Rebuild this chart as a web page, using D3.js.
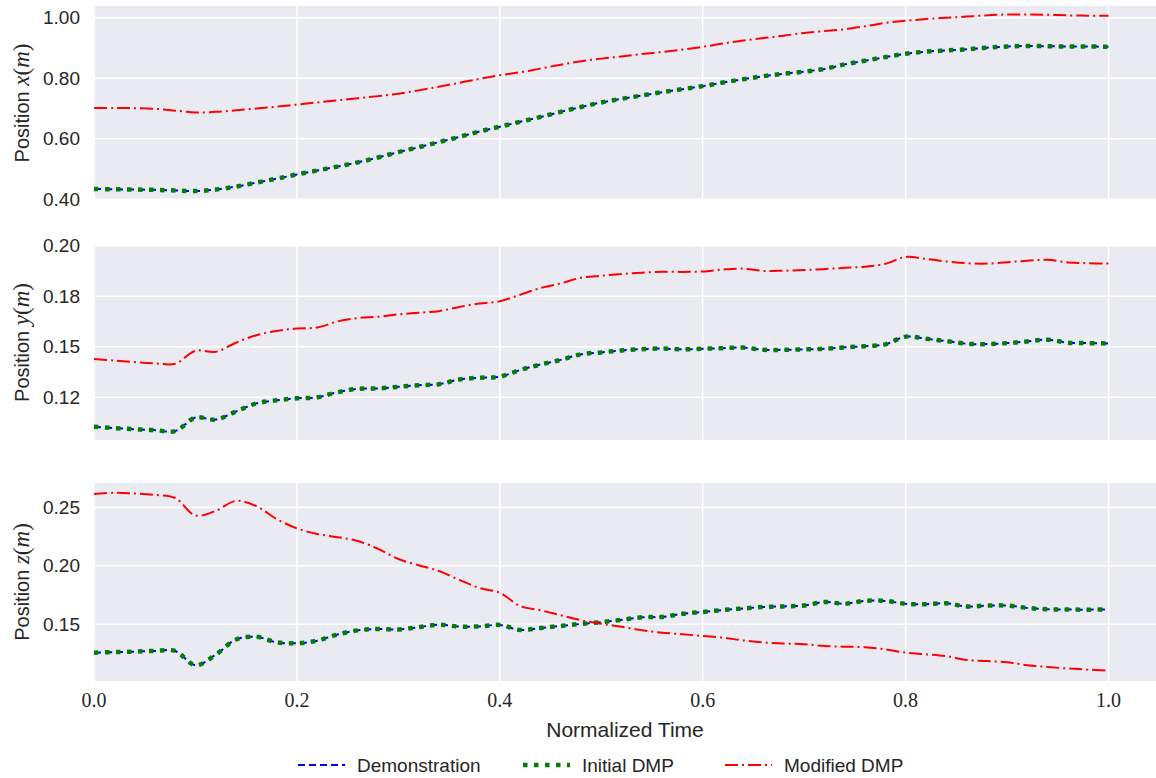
<!DOCTYPE html>
<html>
<head>
<meta charset="utf-8">
<script src="https://cdn.jsdelivr.net/npm/d3@7"></script>
<style>
  body { margin: 0; background: #fff; }
  svg { display: block; }
</style>
</head>
<body>
<svg id="chart"></svg>
<script>
var width = 1156,
    height = 778;

// normalized time samples
var time = d3.range(0, 51).map(function(i) { return i / 50; });

// x position (m)
var demoX = [0.434,0.433,0.432,0.431,0.429,0.427,0.432,0.442,0.455,0.468,
             0.482,0.495,0.508,0.522,0.538,0.556,0.572,0.589,0.606,0.624,
             0.640,0.656,0.672,0.689,0.705,0.720,0.732,0.743,0.754,0.764,
             0.774,0.786,0.797,0.807,0.815,0.822,0.831,0.846,0.858,0.870,
             0.881,0.888,0.892,0.896,0.901,0.905,0.907,0.906,0.905,0.905,0.904];
var dmpX  = [0.434,0.433,0.432,0.431,0.429,0.427,0.432,0.442,0.455,0.468,
             0.482,0.495,0.508,0.522,0.538,0.556,0.572,0.589,0.606,0.624,
             0.640,0.656,0.672,0.689,0.705,0.720,0.732,0.743,0.754,0.764,
             0.774,0.786,0.797,0.807,0.815,0.822,0.831,0.846,0.858,0.870,
             0.881,0.888,0.892,0.896,0.901,0.905,0.907,0.906,0.905,0.905,0.904];
var modX  = [0.702,0.702,0.701,0.699,0.693,0.687,0.689,0.694,0.700,0.706,
             0.713,0.720,0.727,0.734,0.741,0.749,0.760,0.772,0.785,0.798,
             0.810,0.820,0.832,0.845,0.856,0.865,0.872,0.880,0.887,0.895,
             0.904,0.915,0.925,0.933,0.941,0.950,0.956,0.962,0.972,0.983,
             0.990,0.996,1.000,1.004,1.008,1.011,1.011,1.010,1.008,1.007,1.007];

// y position (m)
var demoY = [0.1105,0.1098,0.1092,0.1088,0.1083,0.1150,0.1140,0.1180,0.1220,0.1235,
             0.1245,0.1250,0.1275,0.1292,0.1294,0.1302,0.1310,0.1315,0.1338,0.1347,
             0.1352,0.1385,0.1412,0.1435,0.1463,0.1472,0.1482,0.1488,0.1491,0.1487,
             0.1490,0.1493,0.1496,0.1485,0.1485,0.1487,0.1490,0.1497,0.1503,0.1512,
             0.1550,0.1540,0.1528,0.1515,0.1513,0.1518,0.1526,0.1535,0.1520,0.1518,0.1516];
var dmpY  = [0.1105,0.1098,0.1092,0.1088,0.1083,0.1150,0.1140,0.1180,0.1220,0.1235,
             0.1245,0.1250,0.1275,0.1292,0.1294,0.1302,0.1310,0.1315,0.1338,0.1347,
             0.1352,0.1385,0.1412,0.1435,0.1463,0.1472,0.1482,0.1488,0.1491,0.1487,
             0.1490,0.1493,0.1496,0.1485,0.1485,0.1487,0.1490,0.1497,0.1503,0.1512,
             0.1550,0.1540,0.1528,0.1515,0.1513,0.1518,0.1526,0.1535,0.1520,0.1518,0.1516];
var modY  = [0.1439,0.1432,0.1424,0.1418,0.1416,0.1480,0.1475,0.1520,0.1557,0.1578,
             0.1590,0.1595,0.1625,0.1642,0.1648,0.1660,0.1668,0.1676,0.1697,0.1714,
             0.1725,0.1757,0.1790,0.1813,0.1841,0.1851,0.1860,0.1866,0.1871,0.1870,
             0.1872,0.1882,0.1886,0.1875,0.1876,0.1879,0.1884,0.1890,0.1896,0.1910,
             0.1944,0.1934,0.1922,0.1913,0.1911,0.1918,0.1925,0.1930,0.1917,0.1913,0.1911];

// z position (m)
var demoZ = [0.1257,0.1262,0.1266,0.1272,0.1272,0.1150,0.1240,0.1370,0.1393,0.1345,
             0.1338,0.1360,0.1412,0.1448,0.1460,0.1455,0.1475,0.1497,0.1480,0.1482,
             0.1494,0.1451,0.1468,0.1486,0.1503,0.1518,0.1538,0.1560,0.1563,0.1590,
             0.1605,0.1622,0.1635,0.1648,0.1653,0.1660,0.1690,0.1676,0.1700,0.1700,
             0.1675,0.1672,0.1680,0.1652,0.1660,0.1660,0.1640,0.1628,0.1626,0.1625,0.1628];
var dmpZ  = [0.1257,0.1262,0.1266,0.1272,0.1272,0.1150,0.1240,0.1370,0.1393,0.1345,
             0.1338,0.1360,0.1412,0.1448,0.1460,0.1455,0.1475,0.1497,0.1480,0.1482,
             0.1494,0.1451,0.1468,0.1486,0.1503,0.1518,0.1538,0.1560,0.1563,0.1590,
             0.1605,0.1622,0.1635,0.1648,0.1653,0.1660,0.1690,0.1676,0.1700,0.1700,
             0.1675,0.1672,0.1680,0.1652,0.1660,0.1660,0.1640,0.1628,0.1626,0.1625,0.1628];
var modZ  = [0.2614,0.2624,0.2618,0.2606,0.2580,0.2430,0.2470,0.2555,0.2510,0.2400,
             0.2320,0.2272,0.2245,0.2212,0.2145,0.2058,0.2005,0.1955,0.1880,0.1810,
             0.1770,0.1656,0.1620,0.1578,0.1535,0.1505,0.1478,0.1450,0.1428,0.1415,
             0.1400,0.1385,0.1362,0.1345,0.1336,0.1330,0.1314,0.1308,0.1304,0.1285,
             0.1258,0.1244,0.1228,0.1195,0.1186,0.1175,0.1150,0.1135,0.1122,0.1112,0.1103];

// ticks
var xTicks = [0, 0.2, 0.4, 0.6, 0.8, 1.0];
var yTicksX = [0.4, 0.6, 0.8, 1.0];
var yLabelsX = ["0.40", "0.60", "0.80", "1.00"];
var yTicksY = [0.125, 0.15, 0.175, 0.2];
var yLabelsY = ["0.12", "0.15", "0.18", "0.20"];
var yTicksZ = [0.15, 0.2, 0.25];
var yLabelsZ = ["0.15", "0.20", "0.25"];

var seriesNames = ["Demonstration", "Initial DMP", "Modified DMP"];

var styles = [
  { color: "#0000ff", w: 2,   dash: "7,4" },
  { color: "#008000", w: 4.5, dash: "4.5,6.5" },
  { color: "#ff0000", w: 2,   dash: "13,4,2,4" }
];

var left = 94, right = 1156;
var sansFont = "'Liberation Sans', Arial, sans-serif";
var serifFont = "'Liberation Serif', 'DejaVu Serif', serif";

var svg = d3.select("#chart")
  .attr("width", width)
  .attr("height", height);

var x = d3.scaleLinear().domain([0, 1.0468]).range([left, right]);

var panels = [
  { top: 6,   bottom: 200, domain: [0.3975, 1.039], ticks: yTicksX, labels: yLabelsX, v: "x", data: [demoX, dmpX, modX] },
  { top: 245, bottom: 440, domain: [0.1039, 0.2003], ticks: yTicksY, labels: yLabelsY, v: "y", data: [demoY, dmpY, modY] },
  { top: 483, bottom: 681, domain: [0.1015, 0.2708], ticks: yTicksZ, labels: yLabelsZ, v: "z", data: [demoZ, dmpZ, modZ] }
];

panels.forEach(function(p) {
  var y = d3.scaleLinear().domain(p.domain).range([p.bottom, p.top]);
  var g = svg.append("g");

  g.append("rect")
    .attr("x", left).attr("y", p.top)
    .attr("width", right - left).attr("height", p.bottom - p.top)
    .attr("fill", "#eaeaf2");

  // grid
  g.selectAll(".vgrid").data(xTicks).enter().append("line")
    .attr("x1", function(d) { return x(d); }).attr("x2", function(d) { return x(d); })
    .attr("y1", p.top).attr("y2", p.bottom)
    .attr("stroke", "#fff").attr("stroke-width", 1.6);
  g.selectAll(".hgrid").data(p.ticks).enter().append("line")
    .attr("x1", left).attr("x2", right)
    .attr("y1", function(d) { return y(d); }).attr("y2", function(d) { return y(d); })
    .attr("stroke", "#fff").attr("stroke-width", 1.6);

  // y tick labels
  g.selectAll(".ylab").data(p.ticks).enter().append("text")
    .attr("x", left - 14)
    .attr("y", function(d) { return y(d); })
    .attr("dy", "0.35em")
    .attr("text-anchor", "end")
    .attr("font-family", sansFont)
    .attr("font-size", 19)
    .attr("fill", "#262626")
    .text(function(d, i) { return p.labels[i]; });

  // y axis title
  var cy = (p.top + p.bottom) / 2;
  var t = g.append("text")
    .attr("transform", "translate(29," + cy + ") rotate(-90)")
    .attr("text-anchor", "middle")
    .style("font-size", "20px")
    .attr("fill", "#262626");
  t.append("tspan").style("font-family", sansFont).text("Position ");
  t.append("tspan").style("font-family", serifFont).style("font-size", "23px").style("font-style", "italic").text(p.v);
  t.append("tspan").style("font-family", serifFont).style("font-size", "23px").text("(");
  t.append("tspan").style("font-family", serifFont).style("font-size", "23px").style("font-style", "italic").text("m");
  t.append("tspan").style("font-family", serifFont).style("font-size", "23px").text(")");

  var line = d3.line()
    .x(function(d, i) { return x(time[i]); })
    .y(function(d) { return y(d); })
    .curve(d3.curveCatmullRom);

  p.data.forEach(function(vals, k) {
    g.append("path")
      .datum(vals)
      .attr("d", line)
      .attr("fill", "none")
      .attr("stroke", styles[k].color)
      .attr("stroke-width", styles[k].w)
      .attr("stroke-dasharray", styles[k].dash);
  });
});

// x tick labels
svg.selectAll(".xlab").data(xTicks).enter().append("text")
  .attr("x", function(d) { return x(d); })
  .attr("y", 707)
  .attr("text-anchor", "middle")
  .attr("font-family", serifFont)
  .attr("font-size", 20)
  .attr("fill", "#262626")
  .text(function(d) { return d3.format(".1f")(d); });

svg.append("text")
  .attr("x", (left + right) / 2)
  .attr("y", 737)
  .attr("text-anchor", "middle")
  .attr("font-family", sansFont)
  .attr("font-size", 21)
  .attr("fill", "#262626")
  .text("Normalized Time");

// legend
var legendX = [298, 523, 725];
var legend = svg.append("g");
seriesNames.forEach(function(name, k) {
  legend.append("line")
    .attr("x1", legendX[k]).attr("x2", legendX[k] + 47)
    .attr("y1", 765).attr("y2", 765)
    .attr("stroke", styles[k].color)
    .attr("stroke-width", styles[k].w)
    .attr("stroke-dasharray", styles[k].dash);
  legend.append("text")
    .attr("x", legendX[k] + 59)
    .attr("y", 765)
    .attr("dy", "0.35em")
    .attr("font-family", sansFont)
    .attr("font-size", 19)
    .attr("fill", "#262626")
    .text(name);
});
</script>
</body>
</html>
